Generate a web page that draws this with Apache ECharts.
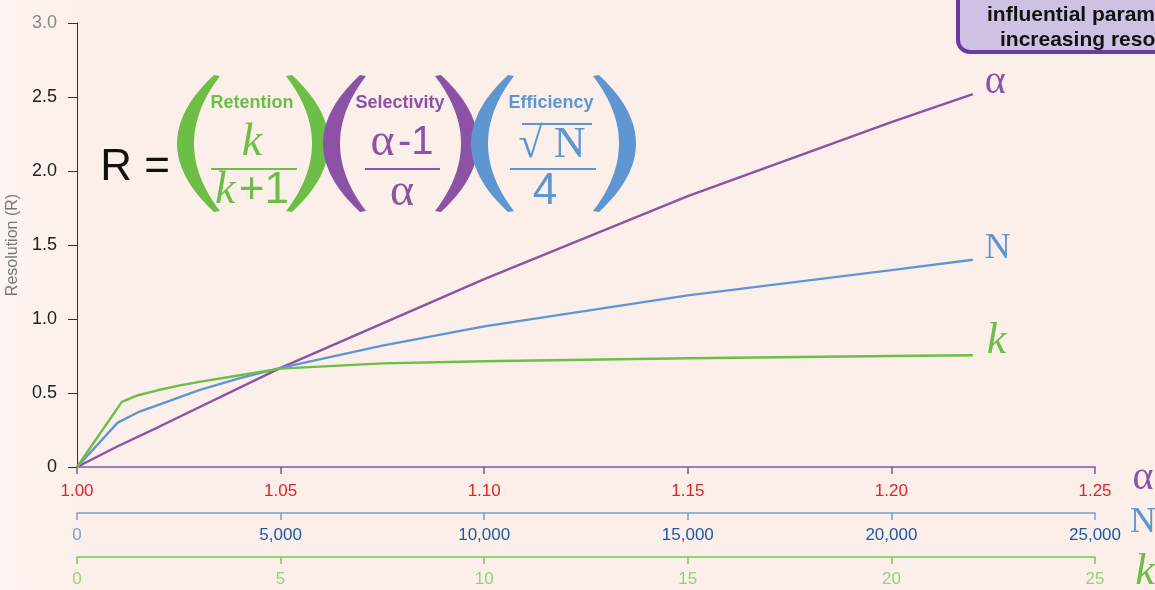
<!DOCTYPE html>
<html>
<head>
<meta charset="utf-8">
<script src="https://cdn.jsdelivr.net/npm/echarts@6/dist/echarts.min.js"></script>
<style>
  html, body { margin: 0; padding: 0; }
  #chart { width: 1155px; height: 590px; }
</style>
</head>
<body>
<div id="chart"></div>
<script>
// 三条曲线的数据
var alphaX = [1.00, 1.01, 1.02, 1.05, 1.10, 1.15, 1.20, 1.22];
var alphaR = [0, 0.14, 0.27, 0.67, 1.27, 1.83, 2.33, 2.52];

var nX = [0, 1000, 1500, 2000, 3000, 4000, 5000, 7500, 10000, 15000, 20000, 22000];
var nR = [0, 0.30, 0.37, 0.42, 0.52, 0.60, 0.67, 0.82, 0.95, 1.16, 1.33, 1.40];

var kX = [0, 1.1, 1.5, 2, 2.5, 3, 4, 5, 7.5, 10, 15, 20, 22];
var kR = [0, 0.44, 0.485, 0.52, 0.55, 0.575, 0.62, 0.665, 0.70, 0.715, 0.735, 0.75, 0.755];

// 坐标轴范围
var yRange = [0, 3, 0.5];
var alphaRange = [1.00, 1.25, 0.05];
var nRange = [0, 25000, 5000];
var kRange = [0, 25, 5];

var PURPLE = '#8b52a6';
var BLUE = '#5e96d2';
var GREEN = '#6dbe46';
var SANS = 'Liberation Sans, Arial, sans-serif';
var SERIF = 'Liberation Serif, Times New Roman, serif';

function pairs(xs, ys) {
  return xs.map(function (x, i) { return [x, ys[i]]; });
}

var chart = echarts.init(document.getElementById('chart'));

// 括号：用两条二次曲线围成的新月形
function quad(p0, c, p1, t) {
  var u = 1 - t;
  return [u * u * p0[0] + 2 * u * t * c[0] + t * t * p1[0],
          u * u * p0[1] + 2 * u * t * c[1] + t * t * p1[1]];
}
function paren(x, top, bottom, dir, color) {
  // dir = 1 左括号, -1 右括号
  var mid = (top + bottom) / 2;
  var tip = x + dir * 6;
  var pts = [];
  var i;
  for (i = 0; i <= 24; i++) pts.push(quad([x, top], [x - dir * 74, mid], [x, bottom], i / 24));
  for (i = 24; i >= 0; i--) pts.push(quad([tip, top + 1], [x - dir * 46, mid], [tip, bottom - 1], i / 24));
  return { type: 'polygon', z: 10, shape: { points: pts }, style: { fill: color } };
}

function txt(x, y, text, size, color, extra, z) {
  var s = { text: text, fontSize: size, fill: color, fontFamily: SANS, align: 'center', verticalAlign: 'middle' };
  for (var k in extra) s[k] = extra[k];
  return { type: 'text', x: x, y: y, z: z || 10, style: s };
}

function hline(x1, x2, y, color) {
  return { type: 'line', z: 10, shape: { x1: x1, y1: y, x2: x2, y2: y }, style: { stroke: color, lineWidth: 2 } };
}

var option = {
  backgroundColor: {
    type: 'linear', x: 0, y: 0, x2: 1, y2: 0,
    colorStops: [
      { offset: 0, color: '#fcf5f2' },
      { offset: 0.07, color: '#fcefea' },
      { offset: 1, color: '#fcefea' }
    ]
  },
  animation: false,
  grid: { left: 77, right: 60, top: 23, bottom: 123, containLabel: false, outerBoundsMode: 'none' },
  yAxis: {
    type: 'value',
    min: yRange[0], max: yRange[1], interval: yRange[2],
    name: 'Resolution (R)',
    nameLocation: 'middle',
    nameGap: 46,
    nameTextStyle: { color: '#777', fontSize: 16, fontFamily: SANS },
    axisLine: { show: true, lineStyle: { color: '#333', width: 1 } },
    axisTick: { show: true, length: 9, lineStyle: { color: '#333' } },
    splitLine: { show: false },
    axisLabel: {
      margin: 20,
      fontSize: 18,
      fontFamily: SANS,
      color: function (v) { return v == 3 ? '#888' : '#222'; },
      formatter: function (v) { return v === 0 ? '0' : v.toFixed(1); }
    }
  },
  xAxis: [
    {
      type: 'value', position: 'bottom', offset: 0,
      min: alphaRange[0], max: alphaRange[1], interval: alphaRange[2],
      axisLine: { onZero: false, lineStyle: { color: PURPLE, width: 1.5 } },
      axisTick: { length: 7, lineStyle: { color: PURPLE, width: 1.5 } },
      splitLine: { show: false },
      axisLabel: {
        margin: 16, fontSize: 17, fontFamily: SANS, color: '#d9262c',
        formatter: function (v) { return v.toFixed(2); }
      }
    },
    {
      type: 'value', position: 'bottom', offset: 46,
      min: nRange[0], max: nRange[1], interval: nRange[2],
      axisLine: { onZero: false, lineStyle: { color: '#6fa3d8', width: 1.5 } },
      axisTick: { length: 7, lineStyle: { color: '#6fa3d8', width: 1.5 } },
      splitLine: { show: false },
      axisLabel: {
        margin: 14, fontSize: 17, fontFamily: SANS,
        color: function (v) { return v == 0 ? '#6fa3d8' : '#1b5aa3'; },
        formatter: function (v) { return v.toLocaleString('en-US'); }
      }
    },
    {
      type: 'value', position: 'bottom', offset: 90,
      min: kRange[0], max: kRange[1], interval: kRange[2],
      axisLine: { onZero: false, lineStyle: { color: '#7cc65a', width: 1.5 } },
      axisTick: { length: 7, lineStyle: { color: '#7cc65a', width: 1.5 } },
      splitLine: { show: false },
      axisLabel: { margin: 14, fontSize: 17, fontFamily: SANS, color: '#8fd578' }
    }
  ],
  series: [
    {
      type: 'line', xAxisIndex: 0, data: pairs(alphaX, alphaR),
      symbol: 'none', lineStyle: { color: PURPLE, width: 2.4 },
      endLabel: {
        show: true, formatter: 'α', distance: 12, offset: [0, -12],
        fontFamily: SERIF, fontSize: 40, color: PURPLE
      }
    },
    {
      type: 'line', xAxisIndex: 1, data: pairs(nX, nR),
      symbol: 'none', lineStyle: { color: BLUE, width: 2.4 },
      endLabel: {
        show: true, formatter: 'N', distance: 12, offset: [0, -11],
        fontFamily: SERIF, fontSize: 36, color: BLUE
      }
    },
    {
      type: 'line', xAxisIndex: 2, data: pairs(kX, kR),
      symbol: 'none', lineStyle: { color: GREEN, width: 2.4 },
      endLabel: {
        show: true, formatter: 'k', distance: 14, offset: [0, -14],
        fontFamily: SERIF, fontStyle: 'italic', fontSize: 44, color: GREEN
      }
    }
  ],
  graphic: [
    // 右上角的提示框
    {
      type: 'rect', z: 20,
      shape: { x: 958, y: -20, width: 260, height: 72, r: 12 },
      style: { fill: '#cfc1e3', stroke: '#6a3b9c', lineWidth: 4 }
    },
    txt(987, 15, 'influential parameter in', 21, '#111', { fontWeight: 'bold', align: 'left' }, 21),
    txt(1000, 40, 'increasing resolution', 21, '#111', { fontWeight: 'bold', align: 'left' }, 21),

    // 公式 R = (k/(k+1)) ((α-1)/α) (√N/4)
    txt(135, 168, 'R =', 44, '#111'),

    paren(214, 75, 212, 1, GREEN),
    txt(252, 103, 'Retention', 18, GREEN, { fontWeight: 'bold' }),
    txt(252, 143, 'k', 46, GREEN, { fontFamily: SERIF, fontStyle: 'italic' }),
    hline(211, 297, 169, GREEN),
    {
      type: 'text', x: 252, y: 191, z: 10,
      style: {
        text: '{i|k} {n|+1}', align: 'center', verticalAlign: 'middle', fill: GREEN,
        rich: {
          i: { fontFamily: SERIF, fontStyle: 'italic', fontSize: 46, fill: GREEN },
          n: { fontFamily: SANS, fontSize: 44, fill: GREEN }
        }
      }
    },
    paren(292, 75, 212, -1, GREEN),

    paren(360, 75, 212, 1, PURPLE),
    txt(400, 103, 'Selectivity', 18, PURPLE, { fontWeight: 'bold' }),
    {
      type: 'text', x: 402, y: 143, z: 10,
      style: {
        text: '{a|α} {n|-1}', align: 'center', verticalAlign: 'middle', fill: PURPLE,
        rich: {
          a: { fontFamily: SERIF, fontSize: 46, fill: PURPLE },
          n: { fontFamily: SANS, fontSize: 40, fill: PURPLE }
        }
      }
    },
    hline(365, 440, 169, PURPLE),
    txt(402, 193, 'α', 46, PURPLE, { fontFamily: SERIF }),
    paren(441, 75, 212, -1, PURPLE),

    paren(508, 75, 212, 1, BLUE),
    txt(551, 103, 'Efficiency', 18, BLUE, { fontWeight: 'bold' }),
    txt(552, 145, '√ N', 44, BLUE, { fontFamily: SERIF }),
    hline(522, 592, 124, BLUE),
    hline(510, 596, 169, BLUE),
    txt(545, 192, '4', 44, BLUE),
    paren(599, 75, 212, -1, BLUE),

    // 坐标轴末端的字母
    txt(1143, 478, 'α', 40, PURPLE, { fontFamily: SERIF }),
    txt(1143, 523, 'N', 36, BLUE, { fontFamily: SERIF }),
    txt(1145, 572, 'k', 44, GREEN, { fontFamily: SERIF, fontStyle: 'italic' })
  ]
};

chart.setOption(option);

window.addEventListener('resize', function () {
  chart.resize();
});
</script>
</body>
</html>
